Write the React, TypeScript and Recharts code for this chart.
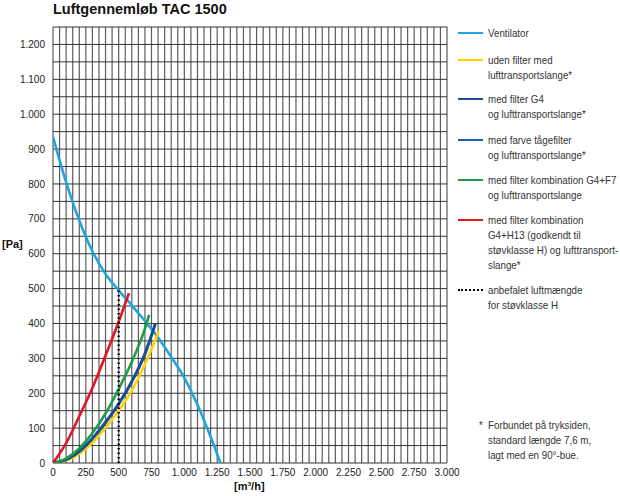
import React from 'react';
import {
  ComposedChart,
  Line,
  XAxis,
  YAxis,
  ReferenceLine,
} from 'recharts';

// Kurver: [m³/h, Pa]
const ventilator = [
  [0, 935], [100, 805], [200, 695], [300, 607], [400, 542], [500, 495],
  [600, 452], [700, 407], [800, 360], [900, 304], [1000, 244], [1100, 167],
  [1200, 75], [1275, 0],
];
const udenFilter = [
  [0, 0], [100, 7], [200, 26], [300, 58], [400, 101], [500, 150],
  [600, 208], [700, 283], [805, 378],
];
const filterG4 = [
  [0, 0], [100, 9], [200, 32], [300, 69], [400, 115], [500, 168],
  [600, 232], [700, 311], [780, 400],
];
const farveFilter = [
  [0, 0], [100, 10], [200, 34], [300, 71], [400, 118], [500, 171],
  [600, 235], [700, 315], [778, 398],
];
const filterG4F7 = [
  [0, 0], [100, 13], [200, 42], [300, 86], [400, 142], [500, 212],
  [600, 290], [700, 385], [732, 425],
];
const filterG4H13 = [
  [0, 0], [100, 57], [200, 134], [300, 215], [400, 308], [500, 405],
  [578, 487],
];
const anbefalet = [[500, 0], [500, 497]];

const xTicks = [0, 250, 500, 750, 1000, 1250, 1500, 1750, 2000, 2250, 2500, 2750, 3000];
const yTicks = [0, 100, 200, 300, 400, 500, 600, 700, 800, 900, 1000, 1100, 1200];
const gridX = Array.from({ length: 61 }, (_, i) => i * 50);
const gridY = Array.from({ length: 26 }, (_, i) => i * 50);

const toPoints = (arr: number[][]) => arr.map(([q, p]) => ({ q, p }));

const fmt = (v: number) => String(v).replace(/\B(?=(\d{3})+(?!\d))/g, '.');

const FONT = '"Liberation Sans", Arial, Helvetica, sans-serif';

const legendItems = [
  { color: '#1ba6e0', lines: ['Ventilator'], top: 26 },
  { color: '#ffd100', lines: ['uden filter med', 'lufttransportslange*'], top: 53 },
  { color: '#1b4d8f', lines: ['med filter G4', 'og lufttransportslange*'], top: 92 },
  { color: '#1b5cae', lines: ['med farve tågefilter', 'og lufttransportslange*'], top: 133 },
  { color: '#1c9d48', lines: ['med filter kombination G4+F7', 'og lufttransportslange'], top: 173 },
  {
    color: '#e3151f',
    lines: ['med filter kombination', 'G4+H13 (godkendt til', 'støvklasse H) og lufttransport-', 'slange*'],
    top: 213,
  },
  { color: '#000', dotted: true, lines: ['anbefalet luftmængde', 'for støvklasse H'], top: 283 },
];

const footnote = ['Forbundet på tryksiden,', 'standard længde 7,6 m,', 'lagt med en 90°-bue.'];

const textStyle: React.CSSProperties = {
  fontSize: 10.5,
  lineHeight: '15px',
  whiteSpace: 'nowrap',
  transform: 'scaleX(0.93)',
  transformOrigin: 'left top',
};

export default function App() {
  const series = [
    { data: ventilator, color: '#1ba6e0' },
    { data: udenFilter, color: '#ffd100' },
    { data: farveFilter, color: '#1b5cae' },
    { data: filterG4, color: '#1b4d8f' },
    { data: filterG4F7, color: '#1c9d48' },
    { data: filterG4H13, color: '#e3151f' },
  ];

  return (
    <div
      style={{
        position: 'absolute',
        left: 0,
        top: 0,
        width: 620,
        height: 496,
        background: '#fff',
        fontFamily: FONT,
        color: '#333',
      }}
    >
      <div
        style={{
          position: 'absolute',
          left: 53,
          top: 1,
          fontSize: 14.5,
          fontWeight: 'bold',
          color: '#111',
          whiteSpace: 'nowrap',
        }}
      >
        Luftgennemløb TAC 1500
      </div>

      <ComposedChart
        width={620}
        height={496}
        margin={{ top: 27, right: 173, bottom: 0, left: 0 }}
        style={{ fontFamily: FONT }}
      >
        <XAxis
          dataKey="q"
          type="number"
          domain={[0, 3000]}
          ticks={xTicks}
          tickFormatter={fmt}
          axisLine={false}
          tickLine={false}
          height={33}
          tick={{ fontSize: 10, fill: '#222' }}
          tickMargin={0}
          interval={0}
          allowDataOverflow
        />
        <YAxis
          dataKey="p"
          type="number"
          domain={[0, 1250]}
          ticks={yTicks}
          tickFormatter={fmt}
          axisLine={false}
          tickLine={false}
          width={53}
          tick={{ fontSize: 10, fill: '#222' }}
          tickMargin={2}
          interval={0}
          allowDataOverflow
        />
        {gridX.map((v) => (
          <ReferenceLine key={'gx' + v} x={v} stroke="#5c5c5c" strokeWidth={1.2} />
        ))}
        {gridY.map((v) => (
          <ReferenceLine key={'gy' + v} y={v} stroke="#333" strokeWidth={1} />
        ))}
        {series.map((s, i) => (
          <Line
            key={i}
            data={toPoints(s.data)}
            dataKey="p"
            type="monotone"
            stroke={s.color}
            strokeWidth={2.6}
            dot={false}
            isAnimationActive={false}
          />
        ))}
        <Line
          data={toPoints(anbefalet)}
          dataKey="p"
          type="linear"
          stroke="#000"
          strokeWidth={2.4}
          strokeDasharray="1.5 3"
          dot={false}
          isAnimationActive={false}
        />
      </ComposedChart>

      <div style={{ position: 'absolute', left: 2, top: 238, fontSize: 11, fontWeight: 'bold', color: '#111' }}>
        [Pa]
      </div>
      <div style={{ position: 'absolute', left: 234, top: 480, fontSize: 11, fontWeight: 'bold', color: '#111' }}>
        [m³/h]
      </div>

      {legendItems.map((item, i) => (
        <div key={i} style={{ position: 'absolute', left: 458, top: item.top }}>
          <div
            style={{
              position: 'absolute',
              left: 0,
              top: 6,
              width: 25,
              height: 0,
              borderTop: item.dotted ? `2px dotted ${item.color}` : `2.5px solid ${item.color}`,
            }}
          />
          <div style={{ ...textStyle, marginLeft: 30 }}>
            {item.lines.map((l, j) => (
              <div key={j}>{l}</div>
            ))}
          </div>
        </div>
      ))}

      <div style={{ ...textStyle, position: 'absolute', left: 479, top: 418 }}>*</div>
      <div style={{ ...textStyle, position: 'absolute', left: 488, top: 418 }}>
        {footnote.map((l, j) => (
          <div key={j}>{l}</div>
        ))}
      </div>
    </div>
  );
}
